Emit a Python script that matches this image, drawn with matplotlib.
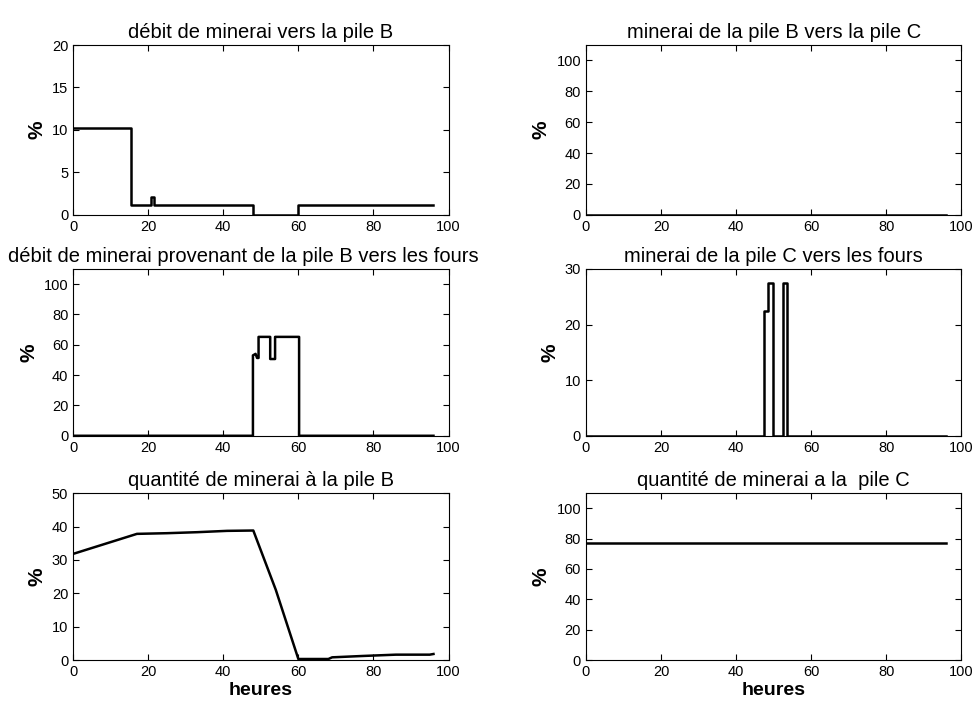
import matplotlib
matplotlib.use("Agg")
import matplotlib.pyplot as plt

plt.rcParams['font.family'] = ['Liberation Sans', 'DejaVu Sans']

# débit vers la pile B (step profile)
t_flow_b = [0, 15.5, 15.5, 20.8, 20.8, 21.6, 21.6, 48, 48, 60, 60, 96]
flow_b = [10.2, 10.2, 1.2, 1.2, 2.1, 2.1, 1.2, 1.2, 0, 0, 1.2, 1.2]

# pile B -> pile C
t_b_to_c = [0, 96]
b_to_c = [0, 0]

# pile B -> fours
t_b_fours = [0, 47.9, 47.9, 48.6, 49.0, 49.4, 49.4, 52.5, 52.5, 53.8, 53.8, 60.2, 60.2, 96]
b_fours = [0, 0, 53, 54, 51.3, 51.3, 65.2, 65.2, 50.6, 50.6, 65.2, 65.2, 0, 0]

# pile C -> fours
t_c_fours = [0, 47.3, 47.3, 48.4, 48.4, 49.8, 49.8, 52.4, 52.4, 53.5, 53.5, 96]
c_fours = [0, 0, 22.5, 22.5, 27.5, 27.5, 0, 0, 27.5, 27.5, 0, 0]

# stock pile B
t_stock_b = [0, 17, 25, 33, 41, 48, 54, 60, 68, 69, 77, 86, 95, 96]
stock_b = [31.8, 37.8, 38.0, 38.3, 38.7, 38.8, 21, 0.3, 0.3, 0.8, 1.2, 1.6, 1.6, 1.8]

# stock pile C
t_stock_c = [0, 96]
stock_c = [77, 77]

xticks = [0, 20, 40, 60, 80, 100]

fig = plt.figure(figsize=(9.75, 7.04), dpi=100)

# rect, x, y, title, title x-position, ymax, yticks, xlabel?
panels = [
    ([0.075, 0.695, 0.385, 0.241], t_flow_b, flow_b, "débit de minerai vers la pile B", 0.5, 20, [0, 5, 10, 15, 20], False),
    ([0.601, 0.695, 0.385, 0.241], t_b_to_c, b_to_c, "minerai de la pile B vers la pile C", 0.5, 110, [0, 20, 40, 60, 80, 100], False),
    ([0.075, 0.381, 0.385, 0.237], t_b_fours, b_fours, "débit de minerai provenant de la pile B vers les fours", 0.453, 110, [0, 20, 40, 60, 80, 100], False),
    ([0.601, 0.381, 0.385, 0.237], t_c_fours, c_fours, "minerai de la pile C vers les fours", 0.5, 30, [0, 10, 20, 30], False),
    ([0.075, 0.0625, 0.385, 0.237], t_stock_b, stock_b, "quantité de minerai à la pile B", 0.5, 50, [0, 10, 20, 30, 40, 50], True),
    ([0.601, 0.0625, 0.385, 0.237], t_stock_c, stock_c, "quantité de minerai a la  pile C", 0.5, 110, [0, 20, 40, 60, 80, 100], True),
]

for rect, t, y, title, tx, ymax, yticks, last in panels:
    ax = fig.add_axes(rect)
    ax.plot(t, y, color='black', lw=1.8)
    ax.set_xlim(0, 100)
    ax.set_ylim(0, ymax)
    ax.set_xticks(xticks)
    ax.set_yticks(yticks)
    ax.tick_params(direction='in', top=True, right=True, labelsize=10.5, length=4, width=0.8)
    for s in ax.spines.values():
        s.set_linewidth(0.8)
    ax.set_title(title, fontsize=14.5, pad=5, x=tx)
    ax.set_ylabel("%", fontsize=15, fontweight='bold', labelpad=4)
    if last:
        ax.set_xlabel("heures", fontsize=14, fontweight='bold', labelpad=2)

fig.savefig("out.png", dpi=100)
